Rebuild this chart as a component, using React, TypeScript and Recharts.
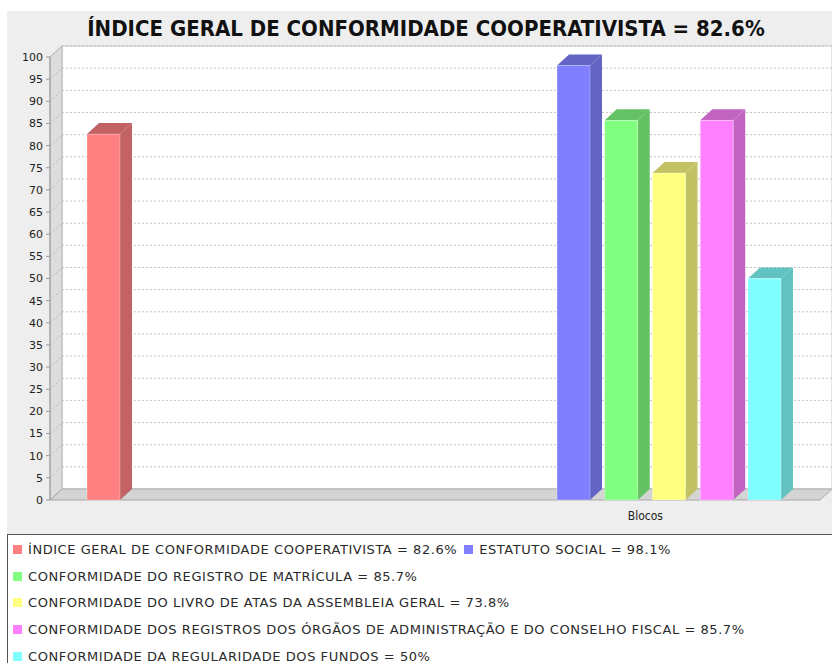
import { BarChart, Bar, XAxis, YAxis, CartesianGrid } from 'recharts';

const categories = ['', 'Blocos'];
const seriesNames = [
  'ÍNDICE GERAL DE CONFORMIDADE COOPERATIVISTA',
  'ESTATUTO SOCIAL',
  'CONFORMIDADE DO REGISTRO DE MATRÍCULA',
  'CONFORMIDADE DO LIVRO DE ATAS DA ASSEMBLEIA GERAL',
  'CONFORMIDADE DOS REGISTROS DOS ÓRGÃOS DE ADMINISTRAÇÃO E DO CONSELHO FISCAL',
  'CONFORMIDADE DA REGULARIDADE DOS FUNDOS',
];
const seriesLabels = ['82.6%', '98.1%', '85.7%', '73.8%', '85.7%', '50%'];
const seriesValues = [82.6, 98.1, 85.7, 73.8, 85.7, 50];
// which category each series sits in
const seriesCategory = [0, 1, 1, 1, 1, 1];
const frontColors = ['#ff8080', '#7f7fff', '#80ff80', '#ffff80', '#ff80ff', '#80ffff'];
const sideColors = ['#c26262', '#6464c4', '#64c264', '#c2c264', '#c264c2', '#62c2c2'];
const yTicks = [0, 5, 10, 15, 20, 25, 30, 35, 40, 45, 50, 55, 60, 65, 70, 75, 80, 85, 90, 95, 100];
const title = 'ÍNDICE GERAL DE CONFORMIDADE COOPERATIVISTA = 82.6%';

const data = categories.map((name, ci) => {
  const row: Record<string, string | number> = { name };
  seriesValues.forEach((v, si) => {
    if (seriesCategory[si] === ci) row['s' + si] = v;
  });
  return row;
});

const W = 832;
const H = 663;
const PL = 50;
const PT = 57;
const PR = 820;
const PB = 500;
const DX = 12;
const DY = 11;

const make3D = (si: number) => (props: any) => {
  const { x, y, width, height } = props;
  if (!height || height <= 0 || isNaN(y)) return <g />;
  const side = sideColors[si];
  return (
    <g>
      <polygon
        points={`${x},${y} ${x + DX},${y - DY} ${x + width + DX},${y - DY} ${x + width},${y}`}
        fill={side}
      />
      <polygon
        points={`${x + width},${y} ${x + width + DX},${y - DY} ${x + width + DX},${y + height - DY} ${x + width},${y + height}`}
        fill={side}
      />
      <rect x={x} y={y} width={width} height={height} fill={frontColors[si]} stroke="#ffffff" strokeOpacity={0.35} strokeWidth={0.8} />
    </g>
  );
};

const gridLine = (p: any) => (
  <g key={p.key}>
    <line x1={p.x1 + DX} y1={p.y1 - DY} x2={p.x2 + DX} y2={p.y2 - DY} stroke="#c4c4c4" strokeDasharray="2 2" />
    <line x1={p.x1} y1={p.y1} x2={p.x1 + DX} y2={p.y1 - DY} stroke="#b8b8b8" strokeDasharray="2 2" />
  </g>
);

const XTick = (props: any) => {
  const { x, y, payload } = props;
  return (
    <text x={x} y={y + 12} textAnchor="middle" fontSize={12} fill="#222" fontFamily="DejaVu Sans Condensed">
      {payload.value}
    </text>
  );
};

export default function App() {
  return (
    <div style={{ position: 'absolute', left: 0, top: 0, width: W, height: H, background: '#fff', overflow: 'hidden' }}>
      <svg width={W} height={H} style={{ position: 'absolute', left: 0, top: 0 }}>
        <rect x={7} y={11} width={W - 7} height={534 - 11} fill="#eeeeee" />
        <text x={426} y={36} textAnchor="middle" fontSize={22} fontWeight="bold" fill="#111" fontFamily="DejaVu Sans Condensed">
          {title}
        </text>
        <rect x={PL + DX} y={PT - DY} width={PR - PL} height={PB - PT} fill="#ffffff" stroke="#c8c8c8" />
        <polygon points={`${PL},${PT} ${PL + DX},${PT - DY} ${PL + DX},${PB - DY} ${PL},${PB}`} fill="#dddddd" stroke="#b4b4b4" />
        <polygon points={`${PL},${PB} ${PL + DX},${PB - DY} ${PR + DX},${PB - DY} ${PR},${PB}`} fill="#d4d4d4" stroke="#a8a8a8" />
      </svg>
      <div style={{ position: 'absolute', left: 0, top: 0 }}>
        <BarChart
          width={W}
          height={H}
          data={data}
          margin={{ top: PT, left: 0, right: W - PR, bottom: H - PB - 30 }}
          barSize={33}
          barGap={14.75}
        >
          <CartesianGrid vertical={false} horizontal={gridLine} />
          <XAxis
            dataKey="name"
            height={30}
            padding={{ left: -38, right: -36.5 }}
            axisLine={false}
            tickLine={false}
            tick={<XTick />}
            interval={0}
          />
          <YAxis
            width={PL}
            domain={[0, 100]}
            ticks={yTicks}
            interval={0}
            tickSize={4}
            tickMargin={3}
            axisLine={{ stroke: '#9a9a9a' }}
            tickLine={{ stroke: '#9a9a9a' }}
            tick={{ fontSize: 11, fill: '#222', fontFamily: 'DejaVu Sans' }}
          />
          {seriesNames.map((n, si) => (
            <Bar key={n} dataKey={'s' + si} name={n} shape={make3D(si)} isAnimationActive={false} />
          ))}
        </BarChart>
      </div>
      <div
        style={{
          position: 'absolute',
          left: 7,
          top: 534,
          width: W - 7,
          height: H - 534,
          boxSizing: 'border-box',
          background: '#fff',
          borderTop: '1px solid #555',
          borderLeft: '1px solid #555',
          padding: '1px 0 0 5px',
          display: 'flex',
          flexWrap: 'wrap',
          alignContent: 'flex-start',
          fontFamily: 'DejaVu Sans',
          fontSize: 13,
          letterSpacing: 0.55,
          color: '#2a2a2a',
        }}
      >
        {seriesNames.map((n, si) => (
          <div key={n} style={{ display: 'flex', alignItems: 'center', height: 26.8, marginRight: 7, whiteSpace: 'nowrap' }}>
            <span style={{ width: 9, height: 9, background: frontColors[si], marginRight: 6, display: 'inline-block' }} />
            <span>{`${n} = ${seriesLabels[si]}`}</span>
          </div>
        ))}
      </div>
    </div>
  );
}
